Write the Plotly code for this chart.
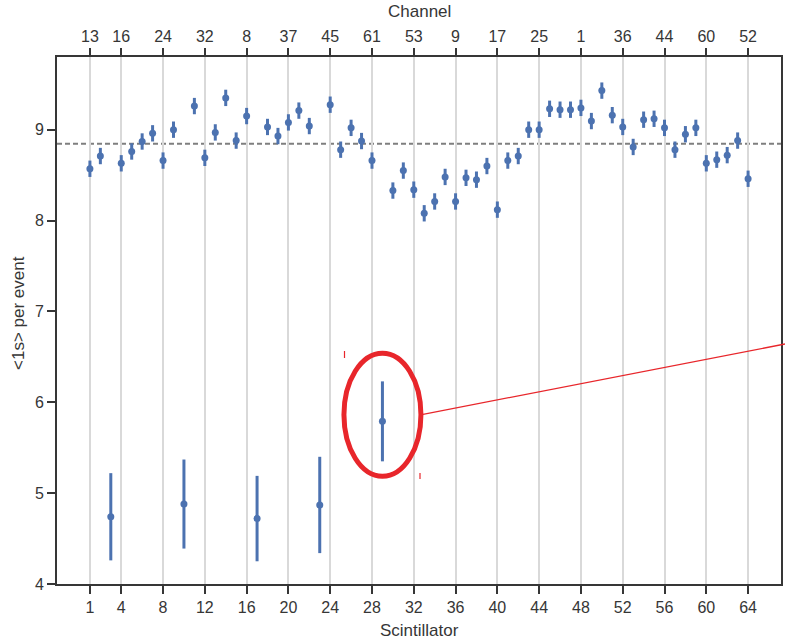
import plotly.graph_objects as go

# Mean number of single-photoelectron signals per event for each scintillator
scintillator = list(range(1, 65))
mean_1s = [
    8.57, 8.71, 4.74, 8.63, 8.76, 8.87, 8.96, 8.66, 9.00, 4.88,
    9.26, 8.69, 8.97, 9.35, 8.88, 9.15, 4.72, 9.03, 8.93, 9.08,
    9.21, 9.04, 4.87, 9.275, 8.78, 9.02, 8.875, 8.66, 5.79, 8.33,
    8.55, 8.34, 8.08, 8.21, 8.48, 8.21, 8.47, 8.45, 8.60, 8.12,
    8.66, 8.71, 9.00, 9.00, 9.23, 9.22, 9.22, 9.24, 9.095, 9.43,
    9.16, 9.03, 8.81, 9.11, 9.12, 9.02, 8.78, 8.95, 9.02, 8.63,
    8.67, 8.72, 8.88, 8.46,
]
err_1s = [0.09] * 64
for idx, e in {3: 0.48, 10: 0.49, 17: 0.47, 23: 0.53, 29: 0.44}.items():
    err_1s[idx - 1] = e

# Reference level across all channels
mean_level = 8.846

# Tick positions and the readout channel wired to each
tick_scint = [1, 4, 8, 12, 16, 20, 24, 28, 32, 36, 40, 44, 48, 52, 56, 60, 64]
tick_channel = ["13", "16", "24", "32", "8", "37", "45", "61", "53", "9",
                "17", "25", "1", "36", "44", "60", "52"]

# Highlighted scintillator
flagged = 29

W, H = 785, 641
L, R, T, B = 57, 781, 57, 584
x_range = [-2.15, 67.15]
y_range = [4, 9.8]

blue = "#4C72B0"
ink = "#363636"
red = "#E8262B"
font = "Liberation Sans, Arial, sans-serif"


def px(xp, yp):
    """Convert window pixel position to paper coordinates."""
    return (xp - L) / (R - L), (B - yp) / (B - T)


fig = go.Figure()

fig.add_trace(go.Scatter(
    x=scintillator, y=mean_1s,
    mode="markers",
    marker=dict(color=blue, size=7),
    error_y=dict(type="data", array=err_1s, color=blue, thickness=3, width=0),
    showlegend=False,
))

# invisible trace carrying the top channel axis
fig.add_trace(go.Scatter(x=[tick_scint[0]], y=[mean_level], xaxis="x2",
                         mode="markers", marker=dict(opacity=0),
                         showlegend=False, hoverinfo="skip"))

shapes = [
    dict(type="line", xref="paper", yref="y", x0=0, x1=1,
         y0=mean_level, y1=mean_level,
         line=dict(color="#7f7f7f", width=2, dash="5px,3px"), layer="below"),
]

# circle the outlier and draw a leader line towards the right edge
fy = mean_1s[flagged - 1]
cx, cy = flagged, fy + 0.073
rx, ry = 3.685, 0.677
shapes.append(dict(type="circle", xref="x", yref="y",
                   x0=cx - rx, x1=cx + rx, y0=cy - ry, y1=cy + ry,
                   line=dict(color=red, width=5)))
p0 = px(423, 414.3)
p1 = px(785, 344)
shapes.append(dict(type="line", xref="paper", yref="paper",
                   x0=p0[0], y0=p0[1], x1=p1[0], y1=p1[1],
                   line=dict(color=red, width=1.3)))
for (xa, ya, yb) in [(344.5, 351, 358), (420, 473, 479)]:
    a = px(xa, ya)
    b = px(xa, yb)
    shapes.append(dict(type="line", xref="paper", yref="paper",
                       x0=a[0], y0=a[1], x1=b[0], y1=b[1],
                       line=dict(color=red, width=1.2)))

annotations = [
    dict(text="Scintillator", xref="paper", yref="paper",
         x=0.5, y=px(0, 630)[1], showarrow=False,
         font=dict(size=17, color=ink, family=font), xanchor="center", yanchor="middle"),
    dict(text="Channel", xref="paper", yref="paper",
         x=0.5, y=px(0, 12)[1], showarrow=False,
         font=dict(size=17, color=ink, family=font), xanchor="center", yanchor="middle"),
    dict(text="<1s> per event", xref="paper", yref="paper",
         x=px(18, 0)[0], y=px(0, 313)[1], showarrow=False, textangle=-90,
         font=dict(size=17, color=ink, family=font), xanchor="center", yanchor="middle"),
]

axis_common = dict(
    ticks="outside", ticklen=8, tickwidth=1.5, tickcolor=ink,
    tickfont=dict(size=16, color=ink, family=font),
    zeroline=False,
)

fig.update_layout(
    width=W, height=H,
    margin=dict(l=L, r=W - R, t=T, b=H - B, autoexpand=False),
    paper_bgcolor="white", plot_bgcolor="white",
    xaxis=dict(range=x_range, tickmode="array", tickvals=tick_scint,
               ticktext=[str(v) for v in tick_scint],
               showgrid=True, gridcolor="#d9d9d9", gridwidth=1.5,
               showline=True, linecolor=ink, linewidth=2, mirror=True,
               **axis_common),
    xaxis2=dict(range=x_range, overlaying="x", side="top", anchor="y",
                tickmode="array", tickvals=tick_scint, ticktext=tick_channel,
                showgrid=False, showline=False, **axis_common),
    yaxis=dict(range=y_range, tickmode="array", tickvals=[4, 5, 6, 7, 8, 9],
               showgrid=False, showline=True, linecolor=ink, linewidth=2,
               mirror=True, **axis_common),
    shapes=shapes,
    annotations=annotations,
    font=dict(family=font),
)

fig.write_html("out.html")
